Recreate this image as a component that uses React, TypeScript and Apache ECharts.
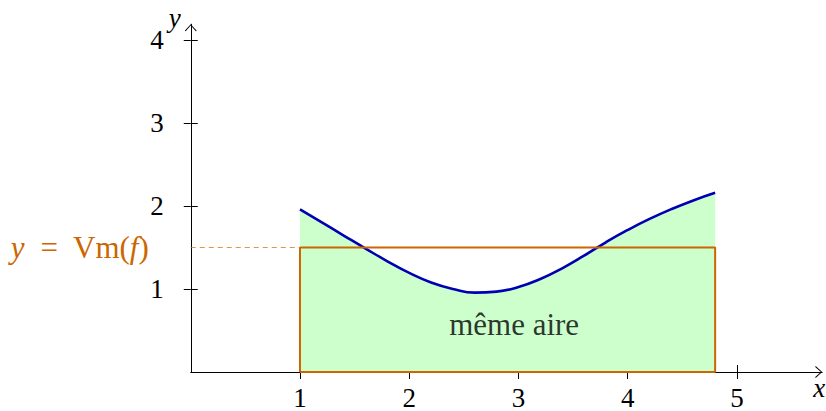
import React, { useEffect, useRef } from 'react';
import * as echarts from 'echarts';

// Curve f(x)
const curveX = [1.0, 1.2, 1.4, 1.6, 1.8, 2.0, 2.2, 2.4, 2.6, 2.8, 3.0, 3.2, 3.4, 3.6, 3.8, 4.0, 4.2, 4.4, 4.6, 4.8];
const curveY = [1.96, 1.802, 1.644, 1.487, 1.334, 1.194, 1.079, 1.001, 0.956, 0.968, 1.024, 1.12, 1.249, 1.401, 1.563, 1.711, 1.844, 1.962, 2.067, 2.159];

// Mean value rectangle
const intervalStart = 1;
const intervalEnd = 4.8;
const meanValue = 1.5;

// Axes
const xTicks = [1, 2, 3, 4, 5];
const yTicks = [1, 2, 3, 4];
const xMax = 5.78;
const yMax = 4.19;

// Annotations
const areaLabel = 'même aire';
const areaLabelPos = [2.96, 0.57];

const ORANGE = '#cc6600';
const BLUE = '#0000b3';
const GREEN = '#ccffcc';
const FONT = "'Liberation Serif', 'Times New Roman', serif";

export default function App() {
  const ref = useRef<HTMLDivElement>(null);

  useEffect(() => {
    const chart = echarts.init(ref.current!, null, { renderer: 'svg' });
    const gridBox = { left: 190.75, top: 24.2, right: 3.8, bottom: 39, containLabel: false, outerBoundsMode: 'none' };
    const arrow = 'path://M0,6.5 L6,0 L12,6.5 L11.1,7 L6,1.3 L0.9,7 Z';
    const axisLine = {
      show: true,
      lineStyle: { color: '#000', width: 1 },
      symbol: ['none', arrow],
      symbolSize: [12, 7],
      symbolOffset: [0, -3.5],
    };
    const tick = { color: '#000', width: 1 };
    const sp = '\u00a0';

    chart.setOption({
      animation: false,
      grid: [{ ...gridBox }, { ...gridBox }],
      xAxis: [
        {
          type: 'value', gridIndex: 0, min: 0, max: xMax, position: 'bottom',
          axisLine,
          splitLine: { show: false },
          axisTick: { show: true, inside: false, length: 7, customValues: xTicks, lineStyle: tick },
          axisLabel: { customValues: xTicks, fontFamily: FONT, fontSize: 27, color: '#000', margin: 12 },
          name: 'x', nameLocation: 'end', nameGap: 3, nameMoveOverlap: false,
          nameTextStyle: { fontFamily: FONT, fontStyle: 'italic', fontSize: 27, color: '#000', align: 'right', verticalAlign: 'top', padding: [2, 0, 0, 0] },
        },
        {
          type: 'value', gridIndex: 1, min: 0, max: xMax, position: 'bottom',
          axisLine: { show: false }, splitLine: { show: false },
          axisTick: { show: true, inside: true, length: 7, customValues: xTicks, lineStyle: tick },
          axisLabel: { show: false },
        },
      ],
      yAxis: [
        {
          type: 'value', gridIndex: 0, min: 0, max: yMax, position: 'left',
          axisLine,
          splitLine: { show: false },
          axisTick: { show: true, inside: false, length: 7, customValues: yTicks, lineStyle: tick },
          axisLabel: { customValues: yTicks, fontFamily: FONT, fontSize: 27, color: '#000', margin: 27 },
          name: 'y', nameLocation: 'end', nameGap: 6, nameMoveOverlap: false,
          nameTextStyle: { fontFamily: FONT, fontStyle: 'italic', fontSize: 27, color: '#000', align: 'right', verticalAlign: 'middle', padding: [0, 10, 0, 0] },
        },
        {
          type: 'value', gridIndex: 1, min: 0, max: yMax, position: 'left',
          axisLine: { show: false }, splitLine: { show: false },
          axisTick: { show: true, inside: true, length: 7, customValues: yTicks, lineStyle: tick },
          axisLabel: { show: false },
        },
      ],
      series: [
        {
          type: 'line', xAxisIndex: 0, yAxisIndex: 0,
          data: curveX.map((x, i) => [x, curveY[i]]),
          smooth: 0.5, symbol: 'none',
          lineStyle: { color: BLUE, width: 2.6 },
          areaStyle: { color: GREEN, opacity: 1 },
          z: 2,
        },
        {
          type: 'line', xAxisIndex: 0, yAxisIndex: 0,
          data: [
            [intervalStart, 0], [intervalStart, meanValue], [intervalEnd, meanValue],
            [intervalEnd, 0], [intervalStart, 0],
          ],
          symbol: 'none',
          lineStyle: { color: ORANGE, width: 2 },
          z: 3,
        },
        {
          type: 'line', xAxisIndex: 0, yAxisIndex: 0, clip: false,
          data: [
            {
              value: [0, meanValue],
              label: {
                show: true, position: 'left', distance: 42,
                formatter: `{i|y}${sp} =${sp} Vm({i|f})`,
                color: ORANGE, fontFamily: FONT, fontSize: 31,
                rich: { i: { fontStyle: 'italic', fontFamily: FONT, fontSize: 31, color: ORANGE } },
              },
            },
            [intervalStart, meanValue],
          ],
          showSymbol: true, symbol: 'circle', symbolSize: 0,
          lineStyle: { color: ORANGE, width: 0.7, type: [5, 4] },
          z: 1,
        },
        {
          type: 'scatter', xAxisIndex: 0, yAxisIndex: 0,
          data: [areaLabelPos],
          symbolSize: 0,
          label: {
            show: true, position: 'inside', formatter: areaLabel,
            color: '#000', fontFamily: FONT, fontSize: 31,
          },
          z: 4,
        },
      ],
    });
    return () => chart.dispose();
  }, []);

  return (
    <div
      ref={ref}
      style={{ position: 'fixed', left: 0, top: 0, width: 826, height: 411, background: '#fff' }}
    />
  );
}
